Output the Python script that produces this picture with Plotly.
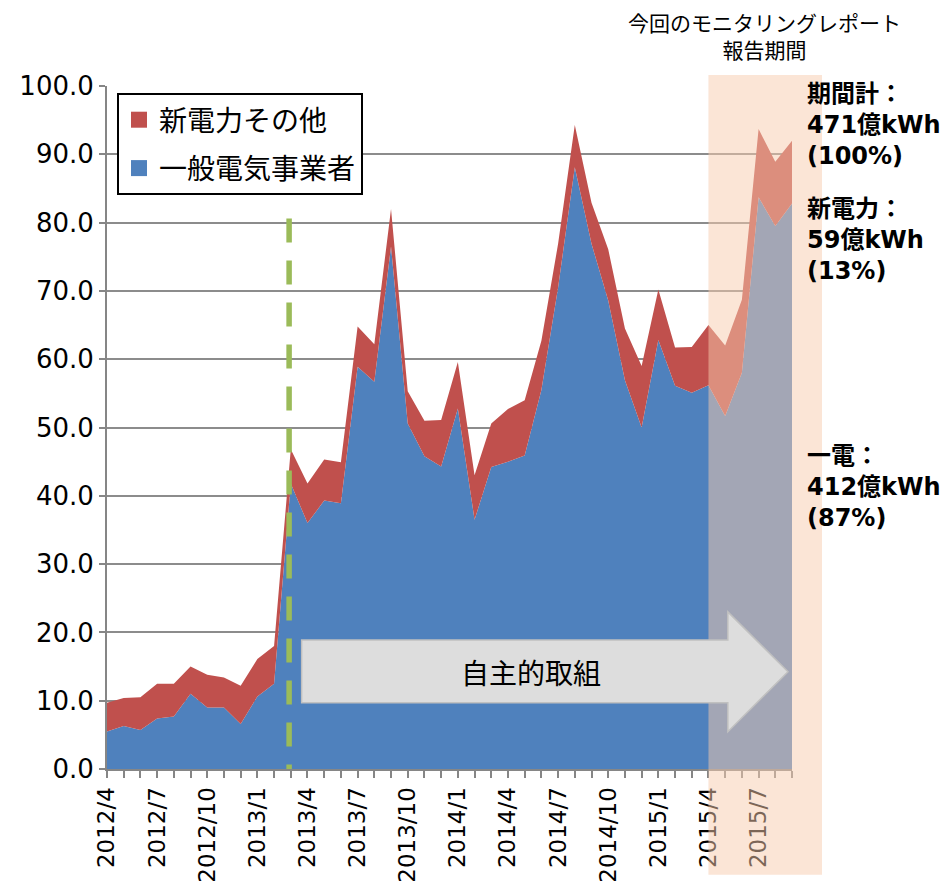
import plotly.graph_objects as go

months = ["2012/4", "2012/5", "2012/6", "2012/7", "2012/8", "2012/9", "2012/10", "2012/11", "2012/12",
          "2013/1", "2013/2", "2013/3", "2013/4", "2013/5", "2013/6", "2013/7", "2013/8", "2013/9",
          "2013/10", "2013/11", "2013/12", "2014/1", "2014/2", "2014/3", "2014/4", "2014/5", "2014/6",
          "2014/7", "2014/8", "2014/9", "2014/10", "2014/11", "2014/12", "2015/1", "2015/2", "2015/3",
          "2015/4", "2015/5", "2015/6", "2015/7", "2015/8", "2015/9"]

# 一般電気事業者 (億kWh)
ippan = [5.5, 6.3, 5.7, 7.4, 7.7, 11.0, 9.0, 9.0, 6.6, 10.6,
         12.5, 41.8, 36.0, 39.3, 38.9, 58.9, 56.7, 76.5, 50.6, 45.8,
         44.3, 52.8, 36.5, 44.2, 45.0, 45.9, 55.5, 70.5, 88.1, 76.9,
         68.6, 56.9, 50.0, 62.8, 56.1, 55.1, 56.2, 51.7, 58.0, 83.7,
         79.5, 82.8]

# 新電力その他 (億kWh)
shin = [4.2, 4.1, 4.8, 5.1, 4.8, 4.0, 4.8, 4.4, 5.6, 5.5,
        5.5, 5.0, 5.8, 6.0, 6.0, 5.9, 5.5, 5.5, 4.7, 5.2,
        6.8, 6.8, 6.5, 6.4, 7.7, 8.1, 7.2, 6.4, 6.2, 6.0,
        7.5, 7.6, 9.0, 7.4, 5.6, 6.7, 8.8, 10.3, 10.7, 10.0,
        9.4, 9.2]

tick_labels = ["2012/4", "2012/7", "2012/10", "2013/1", "2013/4", "2013/7", "2013/10",
               "2014/1", "2014/4", "2014/7", "2014/10", "2015/1", "2015/4", "2015/7"]

BLUE = "#4F81BD"
RED = "#C0504D"
TICKFONT = "DejaVu Sans, Noto Sans CJK JP"
JP = "Noto Sans CJK JP, DejaVu Sans"

x = list(range(len(months)))
tickvals = [months.index(t) for t in tick_labels]
n_last = len(months) - 1
report_start = months.index("2015/4")

fig = go.Figure()
fig.add_trace(go.Scatter(x=x, y=ippan, mode="lines", stackgroup="one", line=dict(width=0, color=BLUE),
                         fillcolor=BLUE, showlegend=False, name="一般電気事業者"))
fig.add_trace(go.Scatter(x=x, y=shin, mode="lines", stackgroup="one", line=dict(width=0, color=RED),
                         fillcolor=RED, showlegend=False, name="新電力その他"))

# legend entries (square swatches)
fig.add_trace(go.Scatter(x=[None], y=[None], mode="markers", name="新電力その他", legendgroup="a",
                         marker=dict(symbol="square", size=16, color=RED)))
fig.add_trace(go.Scatter(x=[None], y=[None], mode="markers", name="一般電気事業者", legendgroup="b",
                         marker=dict(symbol="square", size=16, color=BLUE)))

shapes = []
# green dashed marker line
shapes.append(dict(type="line", xref="x", yref="y", x0=10.9, x1=10.9, y0=80.6, y1=-1.1,
                   line=dict(color="#9BBB59", width=5.5, dash="24px,18px"), layer="above"))
# report period shading (overlay)
shapes.append(dict(type="rect", xref="paper", yref="paper",
                   x0=report_start / n_last, x1=1.0438, y0=-0.155, y1=1.016,
                   fillcolor="#F8CBAD", opacity=0.5, line=dict(width=0), layer="above"))
# big arrow
ax0, ahx, atip = 11.65, 37.16, 40.76
shapes.append(dict(type="path", xref="x", yref="y", layer="above",
                   path=f"M{ax0},9.7 L{ax0},18.9 L{ahx},18.9 L{ahx},23.0 L{atip},14.25 L{ahx},5.45 L{ahx},9.7 Z",
                   fillcolor="#DDDDDD", line=dict(color="#C0C0C0", width=1.5)))

annotations = [
    dict(x=25.4, y=14.2, xref="x", yref="y", text="自主的取組", showarrow=False,
         xanchor="center", yanchor="middle",
         font=dict(family=JP, size=28, color="black")),
    dict(x=(764 - 107) / 685, y=(769 - 36) / 683, xref="paper", yref="paper",
         xanchor="center", yanchor="middle",
         text="今回のモニタリングレポート<br>報告期間", showarrow=False,
         font=dict(family=JP, size=21, color="black"), align="center"),
    dict(x=(805 - 107) / 685, y=(769 - 125) / 683, xref="paper", yref="paper", xanchor="left", yanchor="middle",
         text="<b>期間計：<br>471億kWh<br>(100%)</b>", showarrow=False, align="left",
         font=dict(family=TICKFONT, size=24, color="black")),
    dict(x=(805 - 107) / 685, y=(769 - 240) / 683, xref="paper", yref="paper", xanchor="left", yanchor="middle",
         text="<b>新電力：<br>59億kWh<br>(13%)</b>", showarrow=False, align="left",
         font=dict(family=TICKFONT, size=24, color="black")),
    dict(x=(805 - 107) / 685, y=(769 - 487) / 683, xref="paper", yref="paper", xanchor="left", yanchor="middle",
         text="<b>一電：<br>412億kWh<br>(87%)</b>", showarrow=False, align="left",
         font=dict(family=TICKFONT, size=24, color="black")),
]

# plot area at x 107..792, y 86..769 (page body margin removed below)
fig.update_layout(
    width=952, height=889,
    margin=dict(l=107, r=160, t=86, b=120),
    paper_bgcolor="white", plot_bgcolor="white",
    shapes=shapes, annotations=annotations,
    showlegend=True,
    legend=dict(x=(117 - 107) / 685, y=(769 - 93) / 683, xanchor="left", yanchor="top",
                bgcolor="white", bordercolor="black", borderwidth=2,
                font=dict(family=JP, size=28, color="black"),
                traceorder="grouped", tracegroupgap=9),
    xaxis=dict(range=[0, n_last], tickmode="array", tickvals=tickvals, ticktext=tick_labels,
               tickangle=-90, showgrid=False, zeroline=False, automargin=False,
               showline=True, linecolor="#868686", linewidth=2,
               ticks="outside", ticklen=7, tickcolor="#868686", tickwidth=1.5,
               minor=dict(dtick=1, tick0=0, ticks="outside", ticklen=7, tickcolor="#868686", tickwidth=1.5),
               tickfont=dict(family=TICKFONT, size=23, color="black")),
    yaxis=dict(range=[0, 100], dtick=10, tickformat=".1f", showgrid=True, gridcolor="#8C8C8C", gridwidth=1.8,
               zeroline=False, automargin=False, showline=True, linecolor="#868686", linewidth=2,
               ticks="outside", ticklen=6, tickcolor="#868686", tickwidth=1.5,
               tickfont=dict(family=TICKFONT, size=26, color="black")),
)

fig.write_html("out.html", config={"displayModeBar": False},
               post_script="document.body.style.margin='0';")
